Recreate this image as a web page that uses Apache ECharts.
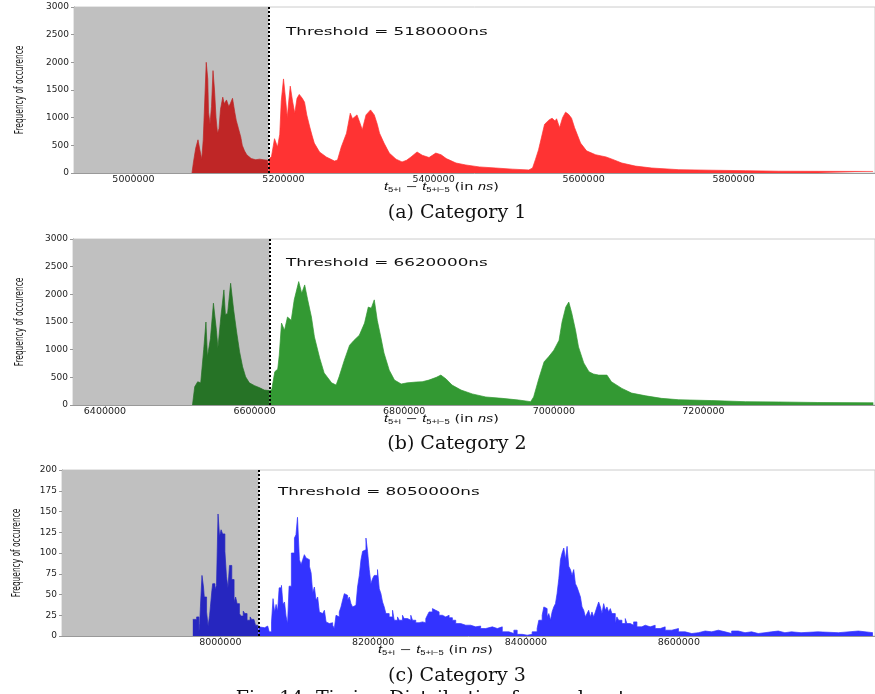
<!DOCTYPE html>
<html>
<head>
<meta charset="utf-8">
<title>Timing distribution</title>
<script src="https://cdn.jsdelivr.net/npm/echarts@6/dist/echarts.min.js"></script>
<style>
  html, body { margin: 0; padding: 0; background: #fff; }
  #chart { width: 875px; height: 694px; }
</style>
</head>
<body>
<div id="chart"></div>
<script>
// thresholds in ns
const thresholds = [5180000, 6620000, 8050000];
const captions = ['(a) Category 1', '(b) Category 2', '(c) Category 3'];

// category 1: time (µs) / frequency
const cat1Time = [5078,5080,5083,5086,5088,5091,5093,5095,5097,5099,5100,5102,5104,5106,5108,5110,5112,5114,5116,5119,
  5121,5124,5127,5129,5132,5135,5137,5140,5143,5145,5148,5151,5153,5157,5163,5168,5173,5179,5180,
  5184,5188,5192,5195,5197,5200,5203,5205,5207,5209,5212,5215,5218,5221,5225,5228,5231,5235,5238,5241,
  5248,5257,5268,5272,5277,5284,5289,5292,5294,5298,5302,5305,5310,5316,5321,5325,5328,5334,5341,5350,
  5358,5364,5370,5378,5385,5394,5403,5410,5417,5430,5443,5461,5483,5505,5527,5532,5536,5540,5544,5548,
  5554,5558,5562,5564,5568,5572,5576,5580,5584,5588,5592,5596,5604,5616,5630,5638,5651,5669,5691,5727,
  5771,5816,5860,5913,5986];
const cat1Count = [0,200,450,600,450,250,600,1300,2000,1700,1100,880,1200,1850,1500,1000,720,800,1150,1370,
  1250,1320,1200,1250,1350,1100,950,800,650,500,400,330,300,260,240,250,240,230,238,
  300,620,470,700,1300,1700,1300,1000,1300,1570,1300,1080,1350,1420,1350,1280,1050,830,680,540,
  380,290,215,235,470,720,1080,980,1010,1050,900,780,1050,1140,1050,880,720,540,360,250,
  200,230,290,380,320,280,360,330,260,180,145,110,90,70,55,90,250,420,650,880,
  960,990,940,980,820,1000,1100,1060,990,820,680,540,400,330,290,250,180,125,90,60,
  50,42,32,30,28];

// category 2
const cat2Time = [6517,6520,6524,6528,6532,6535,6537,6541,6545,6549,6551,6555,6559,6561,6564,6568,6572,6576,6580,6584,
  6588,6593,6600,6607,6613,6620,
  6623,6627,6631,6633,6636,6640,6644,6649,6653,6659,6663,6667,6671,6676,6680,6687,6693,6703,6709,6713,
  6720,6727,6733,6740,6747,6752,6756,6760,6764,6769,6773,6780,6787,6796,6804,6816,6824,6833,6843,6849,
  6856,6864,6876,6891,6909,6931,6953,6969,6973,6980,6987,6993,7000,7007,7011,7016,7020,7024,7029,7033,
  7040,7047,7053,7060,7071,7077,7091,7104,7123,7144,7167,7211,7256,7300,7353,7427];
const cat2Count = [0,330,420,400,1000,1500,870,1200,1840,1350,1030,1600,2080,1630,1660,2200,1720,1320,960,690,
  510,400,350,310,270,260,
  280,600,650,900,1480,1350,1590,1530,1900,2230,2020,2170,1900,1590,1230,850,580,400,360,510,
  810,1080,1170,1260,1480,1770,1750,1900,1530,1210,940,630,450,380,400,415,420,450,500,540,
  470,360,270,200,145,120,90,60,145,480,780,870,990,1170,1500,1770,1860,1660,1350,1050,
  760,600,560,540,540,420,300,215,165,120,95,80,60,55,45,40];

// category 3 (bin start in µs)
const cat3Time = [7964,7969,7972,7973,7974,7976,7978,7979,7982,7984,7986,7987,7989,7990,7993,7995,7997,7999,8001,8003,
  8006,8008,8010,8012,8015,8018,8020,8022,8025,8027,8030,8032,8035,8039,8041,8044,8046,8049,8050,
  8051,8058,8062,8064,8067,8069,8071,8073,8075,8077,8080,8082,8084,8086,8088,8090,8093,8097,8099,8101,
  8103.5,8105.7,8107.8,8110,8112.2,8114.3,8116.6,8118.8,8120.9,8123.1,8125.3,8127.4,8129.6,8131.8,8133.9,8136.2,8138.4,8140.5,8142.7,8144.9,
  8147,8149.2,8151.4,8153.5,8155.7,8157.9,8160,8162.3,8164.5,8166.6,8168.8,8171,8173.1,8175.3,8177.5,8179.6,8181.9,8184.1,8186.2,8188.4,
  8190.6,8192.7,8194.9,8197.1,8199.2,8201.4,8203.6,8205.7,8208,8210.2,8212.3,8214.5,8216.7,8221,8225.4,8227.6,8231.9,8234.1,8238.4,8240.6,
  8245,8249.3,8251.5,8255.8,8260.2,8264.5,8268.9,8271,8273.2,8277.6,8279.7,8281.9,8286.3,8290.6,8295,8299.4,8303.7,8308.1,8314.6,8321.2,
  8327.7,8334.2,8340.7,8347.3,8356,8362.5,8369,8377.7,8384.2,8388.5,8395.1,8401.6,8408.1,8414.6,8416.8,8421.2,8423.4,8425.6,8427.7,8429.9,
  8432.1,8434.2,8436.4,8438.6,8440.7,8443,8445.2,8447.3,8449.5,8451.7,8453.8,8456,8458.2,8460.3,8462.5,8464.7,8466.8,8469.1,8471.3,8473.4,
  8475.6,8477.8,8479.9,8482.1,8484.3,8486.4,8488.6,8490.8,8492.9,8495.2,8497.4,8499.5,8501.7,8503.9,8506,8508.2,8510.4,8512.5,8516.9,8519,
  8521.3,8525.6,8530,8532.1,8536.5,8540.9,8545.2,8551.7,8556.1,8562.6,8569.1,8575.7,8582.2,8590.9,8599.6,8608.3,8617,8625.7,8634.5,8643.1,
  8651.8,8660.6,8669.2,8677.9,8686.7,8695.3,8704,8712.8,8721.4,8730.2,8738.9,8747.5,8760,8782,8809,8835,8854];
const cat3Count = [20,23,5,15,36,73,59,47,29,12,25,35,55,63,56,61,147,120,128,123,
  102,72,58,85,68,41,47,39,27,24,30,27,19,23,20,22,13,11,11,
  10,12,14,5,17,45,29,38,30,58,61,38,41,24,15,60,100,118,122,143,
  92,86,92,98,94,92,84,76,52,59,43,47,29,27,25,31,17,15,17,16,
  13,9,25,23,29,35,43,51,49,43,47,39,35,37,35,59,73,92,102,104,
  118,102,80,63,69,73,73,80,57,51,41,35,27,23,31,19,23,19,25,21,
  19,25,19,16,17,16,21,25,29,33,31,29,25,23,25,22,19,15,13,13,
  11,12,9,11,9,11,5,3,7,2,1,2,5,9,19,25,35,33,23,27,
  19,29,35,39,51,69,92,100,106,92,108,84,80,73,80,63,59,53,47,35,
  31,23,27,31,23,29,23,29,35,41,35,27,39,31,35,29,33,27,15,23,
  19,15,21,15,13,17,11,13,11,13,9,11,7,9,5,3,4,6,5,7,
  5,3,6,4,5,3,4,5,6,4,5,4,5,4,6,4,4];

const xTicks1 = [5000000, 5200000, 5400000, 5600000, 5800000];
const xTicks2 = [6400000, 6600000, 6800000, 7000000, 7200000];
const xTicks3 = [8000000, 8200000, 8400000, 8600000];

const panels = [
  { time: cat1Time, count: cat1Count, ticks: xTicks1, top: 7, left: 74, xMin: 4920700, xMax: 5988500,
    yMax: 3000, yStep: 500, dark: '#bf2626', bright: '#ff3333', step: false,
    nameX: 20, nameY: 90, thrX: 286, thrY: 32, xnX: 384, xnY: 187, capY: 213 },
  { time: cat2Time, count: cat2Count, ticks: xTicks2, top: 239, left: 73, xMin: 6357300, xMax: 7429300,
    yMax: 3000, yStep: 500, dark: '#267326', bright: '#339933', step: false,
    nameX: 20, nameY: 322, thrX: 286, thrY: 263, xnX: 384, xnY: 419, capY: 444 },
  { time: cat3Time, count: cat3Count, ticks: xTicks3, top: 470, left: 62, xMin: 7792800, xMax: 8856800,
    yMax: 200, yStep: 25, dark: '#2626bf', bright: '#3333ff', step: 'end',
    nameX: 17, nameY: 553, thrX: 278, thrY: 492, xnX: 378, xnY: 650, capY: 676 }
];

const labelFont = "'DejaVu Sans', sans-serif";
const plain = v => String(v);

function pairs(times, counts, keep) {
  const out = [];
  for (let i = 0; i < times.length; i++) {
    const t = Math.round(times[i] * 1000);
    if (keep(t)) out.push([t, counts[i]]);
  }
  return out;
}

const grid = [], xAxis = [], yAxis = [], series = [], graphic = [];

panels.forEach((p, i) => {
  const thr = thresholds[i];
  grid.push({ left: p.left, right: -2, top: p.top, height: 166, show: true,
    borderColor: '#cccccc', borderWidth: 1, backgroundColor: 'transparent' });
  xAxis.push({
    gridIndex: i, type: 'value', min: p.xMin, max: p.xMax,
    axisLine: { show: true, lineStyle: { color: '#999' } },
    axisTick: { show: true, length: 2, customValues: p.ticks, lineStyle: { color: '#999' } },
    axisLabel: { customValues: p.ticks, formatter: plain, fontSize: 9.5, fontFamily: labelFont,
      color: '#222', margin: 2 },
    splitLine: { show: false }
  });
  yAxis.push({
    gridIndex: i, type: 'value', min: 0, max: p.yMax, interval: p.yStep,
    axisLine: { show: true, lineStyle: { color: '#999' } },
    axisTick: { show: true, length: 3, lineStyle: { color: '#999' } },
    axisLabel: { formatter: plain, fontSize: 9, fontFamily: labelFont, color: '#222', margin: 5 },
    splitLine: { show: false }
  });

  // grey region below the threshold
  series.push({
    type: 'line', xAxisIndex: i, yAxisIndex: i, data: [], z: 1, silent: true,
    markArea: { silent: true, itemStyle: { color: '#c0c0c0' },
      data: [[{ xAxis: p.xMin }, { xAxis: thr }]] }
  });
  series.push({
    type: 'line', xAxisIndex: i, yAxisIndex: i, z: 2, symbol: 'none', step: p.step,
    data: pairs(p.time, p.count, t => t <= thr),
    lineStyle: { color: p.dark, width: 1, opacity: 0.7 },
    areaStyle: { color: p.dark, opacity: 1 }
  });
  series.push({
    type: 'line', xAxisIndex: i, yAxisIndex: i, z: 3, symbol: 'none', step: p.step,
    data: pairs(p.time, p.count, t => t >= thr),
    lineStyle: { color: p.bright, width: 1, opacity: 0.7 },
    areaStyle: { color: p.bright, opacity: 1 },
    markLine: { silent: true, symbol: ['none', 'none'], label: { show: false },
      lineStyle: { color: '#000', width: 2, type: [2, 2] },
      data: [{ xAxis: thr }] }
  });

  graphic.push({
    type: 'text', x: p.thrX, y: p.thrY, scaleX: 1.6,
    style: { text: 'Threshold = ' + thr + 'ns', fontSize: 10.5, fontFamily: labelFont,
      fill: '#111', textAlign: 'left', textVerticalAlign: 'middle' }
  });
  graphic.push({
    type: 'text', x: p.nameX, y: p.nameY, rotation: Math.PI / 2, scaleX: 0.62,
    style: { text: 'Frequency of occurence', fontSize: 12, fontFamily: labelFont,
      fill: '#111', textAlign: 'center', textVerticalAlign: 'middle' }
  });
  graphic.push({
    type: 'text', x: p.xnX, y: p.xnY, scaleX: 1.45,
    style: {
      text: '{t|t}{s|5+i} − {t|t}{s|5+i−5} (in {t|ns})',
      fontSize: 10, fontFamily: labelFont, fill: '#111', lineHeight: 13,
      textAlign: 'left', textVerticalAlign: 'middle',
      rich: {
        t: { fontStyle: 'italic', fontSize: 10, lineHeight: 13 },
        s: { fontSize: 6.5, lineHeight: 7, verticalAlign: 'bottom' }
      }
    }
  });
  graphic.push({
    type: 'text', x: 457, y: p.capY,
    style: { text: captions[i], fontSize: 19, fontFamily: "'DejaVu Serif', serif",
      fill: '#111', textAlign: 'center', textVerticalAlign: 'middle' }
  });
});

// figure caption, cut off by the bottom edge
graphic.push({
  type: 'text', x: 458, y: 699,
  style: { text: 'Fig. 14: Timing Distribution for each category', fontSize: 19,
    fontFamily: "'DejaVu Serif', serif", fill: '#111', textAlign: 'center', textVerticalAlign: 'middle' }
});

const chart = echarts.init(document.getElementById('chart'));
chart.setOption({
  animation: false,
  backgroundColor: '#fff',
  grid: grid,
  xAxis: xAxis,
  yAxis: yAxis,
  series: series,
  graphic: graphic
});
</script>
</body>
</html>
